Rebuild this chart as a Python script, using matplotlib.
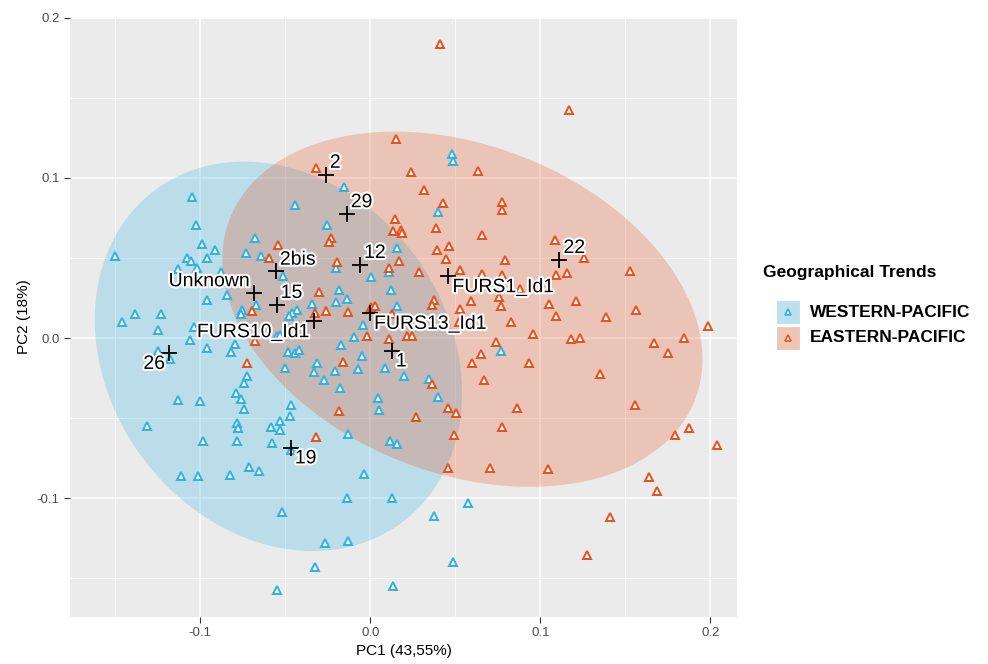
import numpy as np
import matplotlib
matplotlib.use("Agg")
import matplotlib.pyplot as plt
import matplotlib.patheffects as pe
from matplotlib.patches import Rectangle
from matplotlib.lines import Line2D
from matplotlib.ticker import MultipleLocator

plt.rcParams['font.family'] = ['Liberation Sans', 'DejaVu Sans']

# groups
groups = ["WESTERN-PACIFIC", "EASTERN-PACIFIC"]
colors = {"WESTERN-PACIFIC": "#2cb3e6", "EASTERN-PACIFIC": "#e8501c"}
key_colors = {"WESTERN-PACIFIC": "#bde0ee", "EASTERN-PACIFIC": "#efc5b6"}

# PCA scores
west_pc1 = [-0.1051, -0.1025, -0.0988, -0.0912, -0.1504, -0.1080, -0.1053, -0.0962, -0.1021, -0.1133,
            -0.0878, -0.0962, -0.0845, -0.1382, -0.1233, -0.1461, -0.0156, -0.0441, -0.0256, -0.0676,
            -0.0733, -0.0645, -0.0515, -0.0202, 0.0006, 0.0155, 0.0108, 0.0120, -0.0139, -0.0186,
            -0.0204, -0.0341, -0.0433, -0.0459, -0.0480, -0.0674, -0.0755, -0.0761, -0.0041, 0.0159,
            0.0482, 0.0486, 0.0398, -0.1249, -0.1037, -0.1061, -0.0962, -0.0821, -0.0798, -0.1249,
            -0.1178, -0.0547, -0.0531, -0.0486, -0.0443, -0.0418, -0.0500, -0.0312, -0.0331, -0.0208,
            -0.0172, -0.0098, -0.0051, -0.0074, 0.0086, -0.0274, -0.0178, 0.0044, 0.0053, -0.0727,
            -0.0745, -0.0790, -0.0761, -0.0743, -0.1131, -0.1000, -0.1312, -0.0786, -0.0780, -0.0982,
            -0.0784, -0.0468, -0.0472, -0.0529, -0.0586, -0.0531, -0.0578, -0.0465, -0.0714, -0.0655,
            -0.0825, -0.1014, -0.1114, -0.0131, 0.0116, 0.0155, -0.0037, -0.0139, 0.0128, -0.0519,
            -0.0266, -0.0129, -0.0327, -0.0547, 0.0132, 0.0769, 0.0198, 0.0344, 0.0400, 0.0576,
            0.0376, 0.0486]
west_pc2 = [0.0879, 0.0706, 0.0588, 0.0552, 0.0510, 0.0500, 0.0483, 0.0498, 0.0438, 0.0431,
            0.0410, 0.0239, 0.0271, 0.0150, 0.0150, 0.0098, 0.0941, 0.0833, 0.0708, 0.0623,
            0.0531, 0.0510, 0.0389, 0.0438, 0.0381, 0.0564, 0.0413, 0.0302, 0.0246, 0.0302,
            0.0225, 0.0213, 0.0177, 0.0156, 0.0139, 0.0208, 0.0177, 0.0150, 0.0083, 0.0198,
            0.1152, 0.1108, 0.0789, 0.0052, 0.0069, -0.0011, -0.0063, -0.0084, -0.0038, -0.0078,
            -0.0131, 0.0010, 0.0021, -0.0084, -0.0094, -0.0073, -0.0184, -0.0156, -0.0213, -0.0203,
            -0.0046, 0.0006, -0.0115, -0.0192, -0.0184, -0.0261, -0.0313, -0.0375, -0.0448, -0.0236,
            -0.0281, -0.0340, -0.0379, -0.0442, -0.0386, -0.0396, -0.0548, -0.0531, -0.0563, -0.0640,
            -0.0646, -0.0417, -0.0486, -0.0515, -0.0554, -0.0573, -0.0654, -0.0698, -0.0804, -0.0828,
            -0.0854, -0.0859, -0.0859, -0.0600, -0.0646, -0.0661, -0.0850, -0.1000, -0.0996, -0.1084,
            -0.1278, -0.1265, -0.1428, -0.1573, -0.1546, -0.0078, -0.0234, -0.0256, -0.0371, -0.1029,
            -0.1111, -0.1398]

east_pc1 = [0.0151, -0.0318, 0.0144, 0.0135, -0.0233, -0.0245, -0.0545, -0.0598, -0.0194, 0.0108,
            -0.0300, -0.0696, -0.0324, -0.0261, -0.0129, 0.0006, 0.0026, 0.0129, 0.0412, 0.1167,
            0.0239, 0.0635, 0.0318, 0.0426, 0.0776, 0.0775, 0.0182, 0.0188, 0.0385, 0.0659,
            0.1086, 0.0465, 0.0392, 0.0447, 0.0791, 0.1257, 0.0169, 0.0288, 0.0529, 0.0657,
            0.0776, 0.1094, 0.1159, 0.1529, 0.0879, 0.0757, 0.0592, 0.0373, 0.0361, 0.0767,
            0.1051, 0.1208, 0.0528, 0.1561, 0.1091, 0.1385, 0.1986, 0.0828, 0.0522, -0.0680,
            -0.0725, -0.0159, -0.0021, 0.0112, -0.0186, -0.0318, 0.0957, 0.1181, 0.1235, 0.1669,
            0.1847, 0.1751, 0.0741, 0.0651, 0.0600, 0.0934, 0.1349, 0.0669, 0.0365, 0.0459,
            0.0506, 0.0269, 0.0861, 0.1557, 0.0776, 0.0491, 0.1794, 0.1875, 0.2038, 0.0455,
            0.0706, 0.1044, 0.1638, 0.1686, 0.1412, 0.1273, 0.0214, 0.0247]
east_pc2 = [0.1244, 0.1060, 0.0746, 0.0671, 0.0623, 0.0602, 0.0579, 0.0500, 0.0475, 0.0438,
            0.0288, 0.0169, 0.0156, 0.0169, 0.0160, 0.0194, 0.0198, 0.0152, 0.1838, 0.1427,
            0.1035, 0.1041, 0.0927, 0.0841, 0.0848, 0.0798, 0.0677, 0.0656, 0.0688, 0.0644,
            0.0614, 0.0573, 0.0548, 0.0496, 0.0489, 0.0500, 0.0479, 0.0410, 0.0427, 0.0402,
            0.0394, 0.0394, 0.0406, 0.0416, 0.0308, 0.0254, 0.0229, 0.0239, 0.0208, 0.0202,
            0.0213, 0.0229, 0.0183, 0.0175, 0.0139, 0.0131, 0.0077, 0.0102, 0.0098, -0.0021,
            -0.0156, -0.0150, 0.0014, -0.0004, -0.0453, -0.0619, 0.0025, -0.0004, 0.0000, -0.0031,
            0.0000, -0.0094, -0.0025, -0.0098, -0.0156, -0.0153, -0.0225, -0.0265, -0.0288, -0.0434,
            -0.0465, -0.0494, -0.0434, -0.0419, -0.0554, -0.0603, -0.0606, -0.0563, -0.0669, -0.0809,
            -0.0809, -0.0819, -0.0865, -0.0953, -0.1119, -0.1356, 0.0010, 0.0010]

# 95% ellipses: centre, x/y spread and covariance term
west_ellipse = {"center": (-0.0540, -0.0114), "sd": (0.1080, 0.1216), "cov": -0.00247}
east_ellipse = {"center": (0.0542, 0.0180), "sd": (0.1412, 0.1109), "cov": -0.00440}

# labelled specimens
label_names = ["2", "29", "2bis", "12", "Unknown", "15", "FURS10_Id1", "FURS13_Id1",
               "1", "FURS1_Id1", "22", "26", "19"]
label_pc1 = [-0.0262, -0.0139, -0.0556, -0.0061, -0.0682, -0.0551, -0.0331, -0.0002,
             0.0126, 0.0459, 0.1112, -0.1182, -0.0468]
label_pc2 = [0.1021, 0.0775, 0.0416, 0.0458, 0.0281, 0.0208, 0.0104, 0.0156,
             -0.0079, 0.0385, 0.0489, -0.0094, -0.0684]
# text side for each label: (ha, va)
label_side = {"2": ("left", "bottom"), "29": ("left", "bottom"), "2bis": ("left", "bottom"),
              "12": ("left", "bottom"), "Unknown": ("right", "bottom"), "15": ("left", "bottom"),
              "FURS10_Id1": ("right", "top"), "FURS13_Id1": ("left", "top"), "1": ("left", "top"),
              "FURS1_Id1": ("left", "top"), "22": ("left", "bottom"), "26": ("right", "top"),
              "19": ("left", "top")}


def ellipse_xy(e, n=200):
    sx, sy = e["sd"]
    m = np.array([[sx ** 2, e["cov"]], [e["cov"], sy ** 2]])
    L = np.linalg.cholesky(m)
    t = np.linspace(0, 2 * np.pi, n)
    pts = L @ np.vstack([np.cos(t), np.sin(t)])
    return pts[0] + e["center"][0], pts[1] + e["center"][1]


fig = plt.figure(figsize=(9.88, 6.64), dpi=100)
ax = fig.add_axes([70 / 988, 47 / 664, 667 / 988, 600 / 664])
ax.set_facecolor("#ebebeb")
for s in ax.spines.values():
    s.set_visible(False)

ax.xaxis.set_major_locator(MultipleLocator(0.1))
ax.xaxis.set_minor_locator(MultipleLocator(0.05))
ax.yaxis.set_major_locator(MultipleLocator(0.1))
ax.yaxis.set_minor_locator(MultipleLocator(0.05))
ax.grid(which="major", color="white", lw=1.1, zorder=0)
ax.grid(which="minor", color="white", lw=0.55, zorder=0)
ax.set_axisbelow(True)
ax.tick_params(which="minor", length=0)
ax.tick_params(which="major", length=4, color="#333333", labelcolor="#4d4d4d", labelsize=9.5)
fmt = matplotlib.ticker.FuncFormatter(lambda v, p: f"{v:.1f}".replace("-0.0", "0.0"))
ax.xaxis.set_major_formatter(fmt)
ax.yaxis.set_major_formatter(fmt)

for g, e in zip(groups, [west_ellipse, east_ellipse]):
    ex, ey = ellipse_xy(e)
    ax.fill(ex, ey, color=colors[g], alpha=0.25, lw=0, zorder=1)

ax.plot(west_pc1, west_pc2, ls="none", marker="^", ms=5.8, mfc="white",
        mec=colors["WESTERN-PACIFIC"], mew=1.4, zorder=3)
ax.plot(east_pc1, east_pc2, ls="none", marker="^", ms=5.8, mfc="white",
        mec=colors["EASTERN-PACIFIC"], mew=1.4, zorder=3)

ax.plot(label_pc1, label_pc2, ls="none", marker="+", ms=11, mec="black", mew=1.3, zorder=4)
for name, x, y in zip(label_names, label_pc1, label_pc2):
    ha, va = label_side[name]
    dx = 3 if ha == "left" else -3
    dy = 2 if va == "bottom" else -2
    ax.annotate(name, (x, y), xytext=(dx, dy), textcoords="offset points", ha=ha, va=va,
                fontsize=14, color="black", zorder=5,
                path_effects=[pe.withStroke(linewidth=3, foreground="white")])

ax.set_xlim(-0.1766, 0.2157)
ax.set_ylim(-0.1742, 0.2005)
ax.set_xlabel("PC1 (43,55%)", fontsize=11, labelpad=3)
ax.set_ylabel("PC2 (18%)", fontsize=11, labelpad=4)

# legend
fig.text(763 / 988, 1 - 273 / 664, "Geographical Trends", fontsize=12.5, fontweight="bold",
         va="center", ha="left")
for i, g in enumerate(groups):
    top = 300 + i * 25.5
    fig.add_artist(Rectangle((776 / 988, 1 - (top + 24) / 664), 24 / 988, 24 / 664,
                             transform=fig.transFigure, facecolor=key_colors[g], edgecolor="white", lw=0.8))
    fig.add_artist(Line2D([788 / 988], [1 - (top + 12) / 664], transform=fig.transFigure,
                          ls="none", marker="^", ms=4, mfc="white", mec=colors[g], mew=1.2))
    fig.text(810 / 988, 1 - (top + 12) / 664, g, fontsize=12.5, fontweight="bold",
             va="center", ha="left")

fig.savefig("out.png", dpi=100)
